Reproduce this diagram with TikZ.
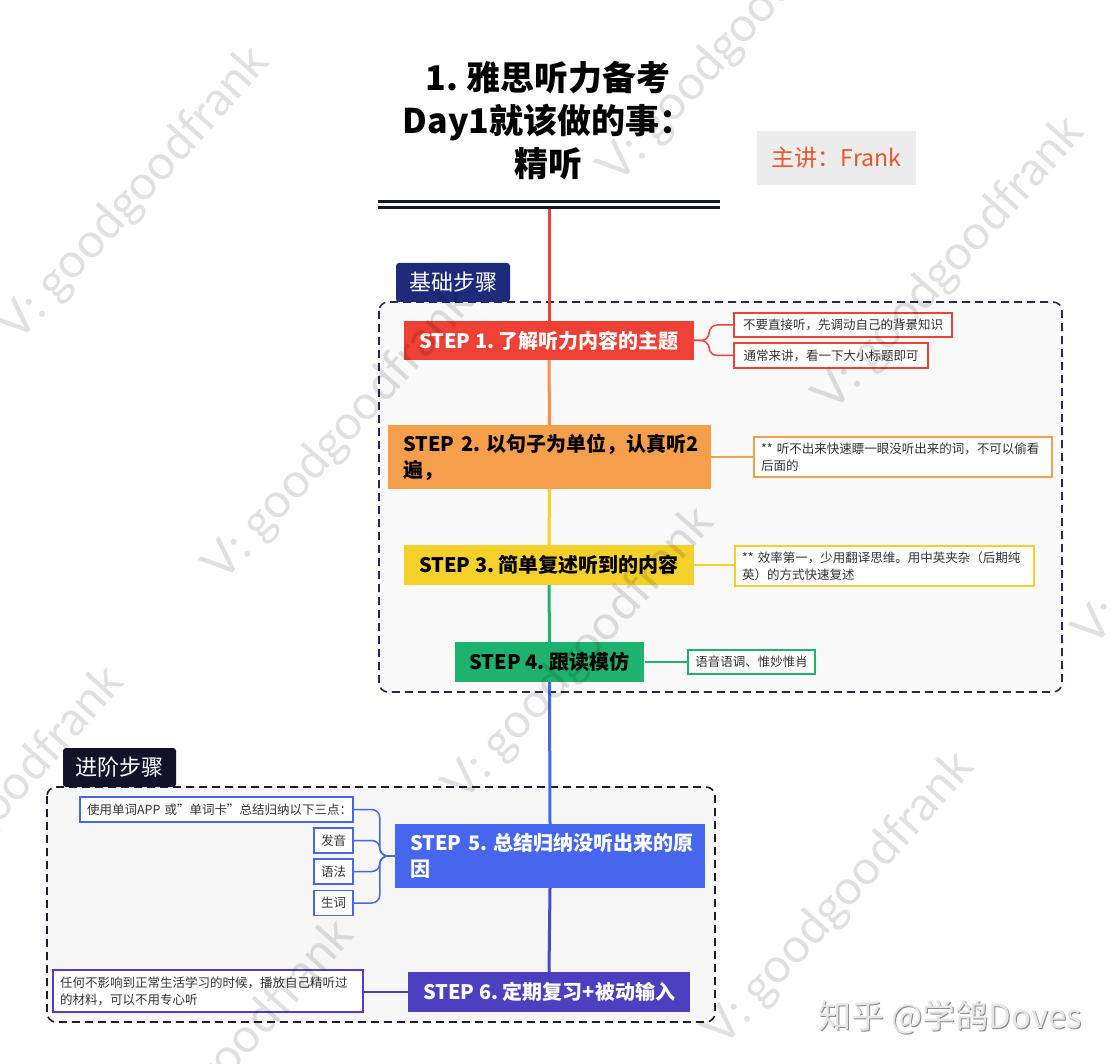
\documentclass[tikz,border=0pt]{standalone}
\usepackage{fontspec}
\setmainfont{Noto Sans CJK SC}
\newfontfamily\wmfont{Lato}
\frenchspacing
\definecolor{cRed}{HTML}{EE4034}
\definecolor{cOrange}{HTML}{F59E4C}
\definecolor{cYellow}{HTML}{F3D02A}
\definecolor{cGreen}{HTML}{1DB36F}
\definecolor{cBlue}{HTML}{4666EE}
\definecolor{cIndigo}{HTML}{4B40C0}
\definecolor{cNavy}{HTML}{1E2B7A}
\definecolor{cDark}{HTML}{12122A}
\definecolor{cDash}{HTML}{24295A}
\definecolor{cDashB}{HTML}{1C1C2C}
\definecolor{cFrank}{HTML}{E8562A}
\definecolor{cFrankBg}{HTML}{ECECEC}
\definecolor{cNote}{HTML}{333333}
\definecolor{cBar}{HTML}{14162A}
\begin{document}
\frenchspacing
\begin{tikzpicture}[x=1pt,y=-1pt,
  stepbox/.style={rectangle, inner xsep=15pt, inner ysep=2pt, font=\bfseries\fontsize{20}{26}\selectfont\frenchspacing},
  notebox/.style={rectangle, draw, fill=white, line width=1.3pt, inner xsep=7pt, inner ysep=2pt, text=cNote, font=\fontsize{12.5}{17}\selectfont},
  trunk/.style={line width=3pt},
  conn/.style={line width=1.5pt, rounded corners=8pt},
  section/.style={draw, dashed, dash pattern=on 8pt off 5pt, line width=1.6pt, rounded corners=9pt},
  seclabel/.style={rectangle, rounded corners=3pt, text=white, inner sep=0pt, font=\fontsize{22}{24}\selectfont},
  wm/.style={text=black, text opacity=0.12, rotate=48, font=\wmfont\fontsize{48}{48}\selectfont}
]
\useasboundingbox (0,0) rectangle (1111,1064);
\fill[white] (0,0) rectangle (1111,1064);

% title
\node[align=center, font=\bfseries\fontsize{34}{43}\selectfont, text=black] (title) at (548,121)
  {1. 雅思听力备考\\Day1就该做的事：\\精听};
\draw[line width=3.2pt, cBar] (378,201.5) -- (720,201.5);
\draw[line width=3.2pt, cBar] (378,207.5) -- (720,207.5);
\coordinate (tb) at (549,209);

% speaker
\node[rectangle, fill=cFrankBg, minimum width=159pt, minimum height=54pt, text=cFrank, font=\fontsize{23}{26}\selectfont] (frank) at (836.5,158) {主讲：Frank};

% sections
\path[section, draw=cDash, fill=black!2.5] (379,302) rectangle (1062,692);
\node[seclabel, fill=cNavy, minimum width=114pt, minimum height=39pt] (lab1) at (453,282.5) {基础步骤};
\path[section, draw=cDashB, fill=black!3.5] (47,787) rectangle (715,1022);
\node[seclabel, fill=cDark, minimum width=113pt, minimum height=39pt] (lab2) at (119.5,767.5) {进阶步骤};

% steps
\node[stepbox, fill=cRed, text=white, minimum width=284pt, minimum height=39pt] (s1) at (549,340.5) {STEP 1. 了解听力内容的主题};
\node[stepbox, fill=cOrange, text=black, minimum width=323pt, minimum height=64pt, text width=293pt, align=left] (s2) at (549.5,457) {\mbox{STEP 2. 以句子为单位，认真听2}\\遍，};
\node[stepbox, fill=cYellow, text=black, minimum width=288pt, minimum height=40pt] (s3) at (549,565) {STEP 3. 简单复述听到的内容};
\node[stepbox, fill=cGreen, text=black, minimum width=189pt, minimum height=40pt] (s4) at (549.5,662) {STEP 4. 跟读模仿};
\node[stepbox, fill=cBlue, text=white, minimum width=310pt, minimum height=64pt, text width=280pt, align=left] (s5) at (550,856) {\mbox{STEP 5. 总结归纳没听出来的原}\\因};
\node[stepbox, fill=cIndigo, text=white, minimum width=282pt, minimum height=40pt] (s6) at (549,992) {STEP 6. 定期复习+被动输入};

% trunk
\draw[trunk, cRed] (tb) -- (s1.north);
\draw[trunk, cOrange!85!cRed] (s1.south) -- (s2.north);
\draw[trunk, cYellow] (s2.south) -- (s3.north);
\draw[trunk, cGreen] (s3.south) -- (s4.north);
\draw[trunk, cBlue] (s4.south) -- (s5.north);
\draw[trunk, cIndigo!80!cBlue] (s5.south) -- (s6.north);

% notes
\node[notebox, draw=cRed, minimum width=218pt, minimum height=24pt] (n1a) at (843,325) {不要直接听，先调动自己的背景知识};
\node[notebox, draw=cRed, minimum width=194pt, minimum height=25pt] (n1b) at (831,355.5) {通常来讲，看一下大小标题即可};
\node[notebox, draw=cOrange, minimum width=298pt, minimum height=40pt, text width=284pt, align=left] (n2) at (903,457) {\mbox{** 听不出来快速瞟一眼没听出来的词，不可以偷看}\\后面的};
\node[notebox, draw=cYellow, minimum width=299pt, minimum height=40pt, text width=285pt, align=left] (n3) at (884.5,566) {\mbox{** 效率第一，少用翻译思维。用中英夹杂（后期纯}\\英）的方式快速复述};
\node[notebox, draw=cGreen, minimum width=127pt, minimum height=24pt] (n4) at (751.5,662) {语音语调、惟妙惟肖};
\node[notebox, draw=cBlue, minimum width=273pt, minimum height=25pt, text width=259pt, align=left] (n5a) at (216.5,809.5) {\mbox{使用单词APP 或"单词卡"总结归纳以下三点：}};
\node[notebox, draw=cBlue, minimum width=39pt, minimum height=25pt, inner xsep=6pt] (n5b) at (333.5,840.5) {发音};
\node[notebox, draw=cBlue, minimum width=39pt, minimum height=25pt, inner xsep=6pt] (n5c) at (333.5,871.5) {语法};
\node[notebox, draw=cBlue, minimum width=39pt, minimum height=25pt, inner xsep=6pt] (n5d) at (333.5,903) {生词};
\node[notebox, draw=cIndigo, minimum width=310pt, minimum height=42pt, text width=296pt, align=left] (n6) at (208,991) {\mbox{任何不影响到正常生活学习的时候，播放自己精听过}\\的材料，可以不用专心听};

% connectors
\draw[conn, cRed] (s1.east) -- ++(15,0) |- (n1a.west);
\draw[conn, cRed] (s1.east) -- ++(15,0) |- (n1b.west);
\draw[conn, cOrange] (s2.east) -- (n2.west |- s2.east);
\draw[conn, cYellow] (s3.east) -- (n3.west |- s3.east);
\draw[conn, cGreen] (s4.east) -- (n4.west);
\draw[conn, cBlue] (s5.west) -- ++(-15,0) |- (n5a.east);
\draw[conn, cBlue] (s5.west) -- ++(-15,0) |- (n5b.east);
\draw[conn, cBlue] (s5.west) -- ++(-15,0) |- (n5c.east);
\draw[conn, cBlue] (s5.west) -- ++(-15,0) |- (n5d.east);
\draw[conn, cIndigo] (s6.west) -- (n6.east |- s6.west);

% zhihu mark
\node[text=black!45, font=\fontsize{33}{36}\selectfont] (zhs) at (951.2,1018.2) {知乎 @学鸽Doves};
\node[text=black!10, font=\fontsize{33}{36}\selectfont] (zh) at (950,1017) {知乎 @学鸽Doves};

% watermarks
\begin{scope}
\clip (0,0) rectangle (1111,1064);
\node[wm] (w1) at (135,195) {V: goodgoodfrank};
\node[wm] (w2) at (340,435) {V: goodgoodfrank};
\node[wm] (w3) at (735,37) {V: goodgoodfrank};
\node[wm] (w4) at (950,265) {V: goodgoodfrank};
\node[wm] (w5) at (580,655) {V: goodgoodfrank};
\node[wm] (w6) at (-10,815) {V: goodgoodfrank};
\node[wm] (w7) at (220,1068) {V: goodgoodfrank};
\node[wm] (w8) at (840,900) {V: goodgoodfrank};
\node[wm] (w9) at (1210,500) {V: goodgoodfrank};
\end{scope}
\end{tikzpicture}
\end{document}
